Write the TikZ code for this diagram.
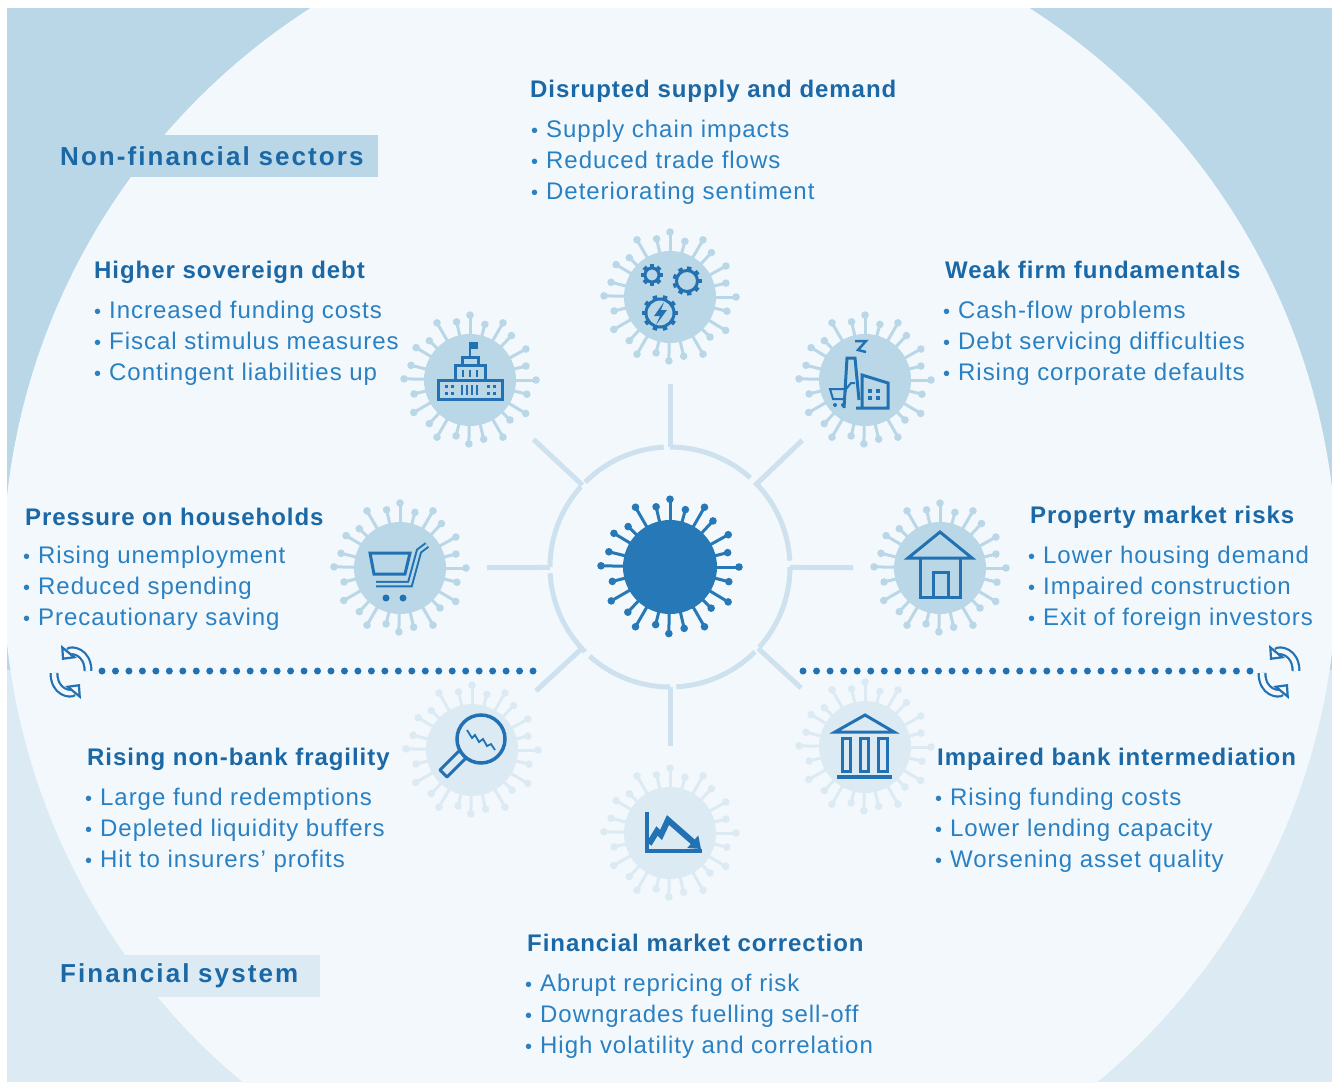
\documentclass[tikz,border=0pt]{standalone}
\usepackage{fontspec}
\setmainfont[LetterSpace=4]{Liberation Sans}
\newfontfamily\secfont[LetterSpace=8]{Liberation Sans}
\usetikzlibrary{arrows.meta}

\definecolor{darkbg}{RGB}{185,215,231}
\definecolor{lightbg}{RGB}{220,234,244}
\definecolor{innerbg}{RGB}{243,248,252}
\definecolor{ringblue}{RGB}{205,225,238}
\definecolor{virusblue}{RGB}{38,121,182}
\definecolor{iconblue}{RGB}{34,114,179}
\definecolor{titleblue}{RGB}{27,104,166}
\definecolor{itemblue}{RGB}{41,128,194}

\tikzset{
  title/.style = {anchor=base west, inner sep=0pt, text=titleblue, font=\fontsize{24}{24}\selectfont\bfseries},
  item/.style = {anchor=base west, inner sep=0pt, text=itemblue, font=\fontsize{24}{24}\selectfont},
  section/.style = {anchor=west, inner xsep=10pt, minimum height=42pt, align=left, text=titleblue, font=\secfont\fontsize{26}{26}\selectfont\bfseries},
  ring/.style = {draw=ringblue, line width=5pt},
  sat/.style = {circle, inner sep=0pt, minimum size=92pt},
  icon/.style = {draw=iconblue, line width=3pt},
  cyc/.style = {draw=iconblue, line width=2.2pt, double=innerbg, double distance=4.5pt, -{Triangle[open, length=11pt, width=20pt]}},
  dots/.style = {draw=iconblue, line width=7pt, line cap=round},
}

% bullet in front of list lines
\newcommand{\bul}{\makebox[15pt][l]{\fontsize{20}{20}\selectfont\raisebox{0pt}{•}}}

% spikes round a virus body: node, body radius, reach, colour
\newcommand{\spikes}[4]{%
  \foreach \a/\len in {0/1, 14/.65, 31/.95, 45/.55, 60/1, 77/.75, 91/.9, 104/.6, 120/1, 133/.7, 150/.95, 166/.6,
                       181/1, 194/.75, 211/.85, 224/.55, 240/1, 257/.7, 270/.95, 285/.6, 300/1, 313/.75, 331/.9, 346/.6}{
    \draw[#4, line width=3pt] (#1.center) -- ++(\a:{#2+#3*\len});
    \fill[#4] (#1.center) ++(\a:{#2+#3*\len}) circle (3.8);
  }
}

% gear outline: x, y, radius, teeth
\newcommand{\gear}[4]{%
  \draw[icon] (#1,#2) circle (#3);
  \foreach \k in {1,...,#4}
    \draw[iconblue, line width=4.5pt] (#1,#2) ++({\k*360/#4}:#3) -- ++({\k*360/#4}:4);
}

\begin{document}
\begin{tikzpicture}[x=1pt, y=-1pt]

\useasboundingbox (0,0) rectangle (1339,1084);
\fill[white] (0,0) rectangle (1339,1084);

% Background
\begin{scope}
  \clip (7,8) rectangle (1332,1082);
  \fill[darkbg] (7,8) rectangle (1332,670);
  \fill[lightbg] (7,670) rectangle (1332,1082);
  \fill[innerbg] (670,570) circle (667);
\end{scope}

% Sections
\node[section, fill=darkbg, text width=308pt] (secNF) at (50,156) {Non-financial sectors};
\node[section, fill=lightbg, text width=250pt] (secFS) at (50,976) {Financial system};

% Hub
\node[circle, inner sep=0pt, minimum size=240pt] (hub) at (670,567) {};
\foreach \a in {0,45,...,315}
  \draw[ring] (hub.center) ++(\a:120) arc[start angle=\a, end angle=\a+42, radius=120];

% Satellites
\node[sat, fill=darkbg] (sDem) at (670,297) {};
\node[sat, fill=darkbg] (sSov) at (470,380) {};
\node[sat, fill=darkbg] (sFirm) at (865,380) {};
\node[sat, fill=darkbg] (sHh) at (400,568) {};
\node[sat, fill=darkbg] (sProp) at (940,568) {};
\node[sat, fill=lightbg] (sNbank) at (472,750) {};
\node[sat, fill=lightbg] (sBank) at (865,747) {};
\node[sat, fill=lightbg] (sMkt) at (670,833) {};

\foreach \s in {sDem,sSov,sFirm,sHh,sProp}{\spikes{\s}{45}{21}{darkbg}}
\foreach \s in {sNbank,sBank,sMkt}{\spikes{\s}{45}{21}{lightbg}}

% Spokes
\foreach \s in {sDem,sSov,sFirm,sHh,sProp,sNbank,sBank,sMkt}
  \draw[ring, shorten <=120pt, shorten >=87pt] (hub.center) -- (\s.center);

% Core virus
\node[circle, inner sep=0pt, minimum size=94pt, fill=virusblue] (core) at (670,567) {};
\spikes{core}{45}{24}{virusblue}

% Icon: gears
\gear{652}{275}{7}{8}
\gear{687}{281}{10.5}{9}
\gear{660}{313}{14}{10}
\fill[iconblue] (664,302) -- (654,316) -- (660,316) -- (656,325) -- (667,310) -- (661,310) -- cycle;

% Icon: government building
\draw[icon] (438,380) rectangle (502,399);
\draw[icon] (455,380) -- (455,365) -- (485,365) -- (485,380);
\draw[icon] (462,365) -- (462,357) -- (478,357) -- (478,365);
\draw[iconblue, line width=2pt] (470,357) -- (470,342);
\fill[iconblue] (470,342) rectangle (478,349);
\foreach \x in {463,470,477}
  \draw[iconblue, line width=2.5pt] (\x,370) -- (\x,377);
\foreach \x in {462,467,472,477}
  \draw[iconblue, line width=2.5pt] (\x,385) -- (\x,395);
\foreach \x in {446,452,488,494}
  \foreach \y in {386,393}
    \fill[iconblue] (\x-1.5,\y-1.5) rectangle (\x+1.5,\y+1.5);

% Icon: factory
\draw[icon] (844,408) -- (847,358) -- (855,358) -- (859,400);
\draw[icon] (862,408) -- (862,375) -- (888,383) -- (888,408) -- (856,408);
\draw[iconblue, line width=2.5pt] (855,341) -- (866,341) -- (858,350) -- (866,352);
\foreach \x in {870,878}
  \foreach \y in {391,398}
    \fill[iconblue] (\x-2,\y-2) rectangle (\x+2,\y+2);
\draw[iconblue, line width=2pt] (830,389) -- (846,389) -- (844,399) -- (833,399) -- cycle;
\draw[iconblue, line width=2pt] (846,389) -- (851,383) -- (855,383);
\fill[iconblue] (835,405) circle (2) (843,405) circle (2);

% Icon: shopping cart
\draw[icon] (370,553) -- (410,553) -- (405,574) -- (374,574) -- cycle;
\draw[draw=iconblue, line width=2pt, double=darkbg, double distance=2.5pt] (376,584) -- (410,584) -- (419,551) -- (427,545);
\fill[iconblue] (386,598) circle (3.5) (403,598) circle (3.5);

% Icon: house
\draw[icon] (908,558) -- (940,532) -- (972,558) -- cycle;
\draw[icon] (920,558) -- (920,597) -- (960,597) -- (960,558);
\draw[icon] (933,597) -- (933,572) -- (948,572) -- (948,597);

% Icon: magnifier
\draw[icon, line width=3.5pt] (481,739) circle (24);
\draw[icon, line join=round] (467,757) -- (447,777) -- (440,770) -- (460,750);
\draw[iconblue, line width=1.8pt] (467,730) -- (472,738) -- (475,735) -- (479,742) -- (483,739) -- (487,746) -- (491,744) -- (495,750);

% Icon: bank
\draw[icon] (835,732) -- (865,715) -- (894,732) -- cycle;
\draw[icon] (842,738) rectangle (850,771);
\draw[icon] (860,738) rectangle (868,771);
\draw[icon] (878,738) rectangle (887,771);
\draw[iconblue, line width=4pt] (837,777) -- (892,777);

% Icon: falling chart
\draw[iconblue, line width=4pt] (647,812) -- (647,851) -- (702,851);
\draw[iconblue, line width=6pt, -{Triangle[length=11pt, width=16pt]}] (649,844) -- (657,831) -- (661,835) -- (668,820) -- (701,849);

% Cycles and dotted links
\coordinate (cycL) at (71,672);
\coordinate (cycR) at (1279,672);
\foreach \c in {cycL,cycR}{
  \begin{scope}[shift={(\c)}, y=1pt]
    \draw[cyc] (17,1) .. controls (17,21) and (0,23) .. (-9,12);
    \draw[cyc] (-17,-1) .. controls (-17,-21) and (0,-23) .. (9,-12);
  \end{scope}
}
\draw[dots, dash pattern=on 0pt off 13.47pt] (102,671) -- (534,671);
\draw[dots, dash pattern=on 0pt off 13.545pt] (803,671) -- (1251,671);

% Texts
\node[title] (dem) at (530,97.5) {Disrupted supply and demand};
\foreach \t [count=\i] in {Supply chain impacts, Reduced trade flows, Deteriorating sentiment}
  \node[item] (dem\i) at (531,{137.5+31*(\i-1)}) {\bul\t};

\node[title] (sov) at (94,278.5) {Higher sovereign debt};
\foreach \t [count=\i] in {Increased funding costs, Fiscal stimulus measures, Contingent liabilities up}
  \node[item] (sov\i) at (94,{318.5+31*(\i-1)}) {\bul\t};

\node[title] (firm) at (945,278.5) {Weak firm fundamentals};
\foreach \t [count=\i] in {Cash-flow problems, Debt servicing difficulties, Rising corporate defaults}
  \node[item] (firm\i) at (943,{318.5+31*(\i-1)}) {\bul\t};

\node[title] (hh) at (25,525.5) {Pressure on households};
\foreach \t [count=\i] in {Rising unemployment, Reduced spending, Precautionary saving}
  \node[item] (hh\i) at (23,{563.5+31*(\i-1)}) {\bul\t};

\node[title] (prop) at (1030,523.5) {Property market risks};
\foreach \t [count=\i] in {Lower housing demand, Impaired construction, Exit of foreign investors}
  \node[item] (prop\i) at (1028,{563.5+31*(\i-1)}) {\bul\t};

\node[title] (nbank) at (87,765.5) {Rising non-bank fragility};
\foreach \t [count=\i] in {Large fund redemptions, Depleted liquidity buffers, Hit to insurers’ profits}
  \node[item] (nbank\i) at (85,{805.5+31*(\i-1)}) {\bul\t};

\node[title] (bank) at (937,765.5) {Impaired bank intermediation};
\foreach \t [count=\i] in {Rising funding costs, Lower lending capacity, Worsening asset quality}
  \node[item] (bank\i) at (935,{805.5+31*(\i-1)}) {\bul\t};

\node[title] (mkt) at (527,951.5) {Financial market correction};
\foreach \t [count=\i] in {Abrupt repricing of risk, Downgrades fuelling sell-off, High volatility and correlation}
  \node[item] (mkt\i) at (525,{991.5+31*(\i-1)}) {\bul\t};

\end{tikzpicture}
\end{document}
